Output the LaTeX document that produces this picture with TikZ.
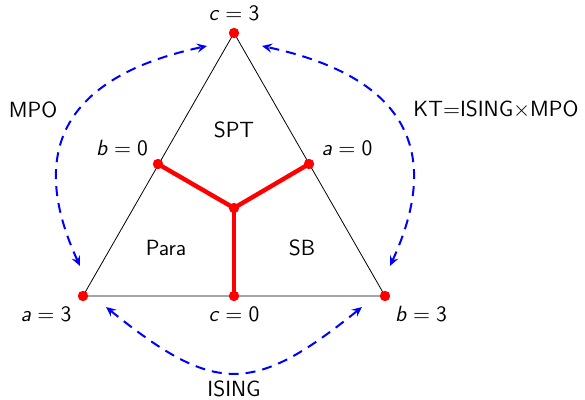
\documentclass[tikz,border=0pt]{standalone}
\usetikzlibrary{arrows.meta}
\newcommand{\eqlab}[2]{\textit{#1}${}={}$#2}
\begin{document}
\begin{tikzpicture}[x=0.5pt,y=-0.5pt,
  lbl/.style={font=\fontsize{11}{13}\selectfont\sffamily, inner sep=1pt},
  tri/.style={draw=black, line width=0.4pt},
  redline/.style={draw=red, line width=2.2pt},
  reddot/.style={circle, fill=red, inner sep=0pt, minimum size=5.2pt},
  bluearr/.style={draw=blue, line width=1pt, dash pattern=on 5pt off 3.5pt,
     {Stealth[length=5pt,width=4.5pt,inset=1.8pt]}-{Stealth[length=5pt,width=4.5pt,inset=1.8pt]}}]
\useasboundingbox (0,0) rectangle (585,400);
% vertices
\coordinate (A) at (83,296);
\coordinate (B) at (385,296);
\coordinate (C) at (234,33);
\coordinate (Mab) at (234,296);
\coordinate (Mac) at (158,164);
\coordinate (Mbc) at (309,164);
\coordinate (O) at (234,208);
\draw[tri] (A) -- (B) -- (C) -- cycle;
\draw[redline] (O) -- (Mac);
\draw[redline] (O) -- (Mbc);
\draw[redline] (O) -- (Mab);
\foreach \p in {A,B,C,Mab,Mac,Mbc,O} \node[reddot] (d\p) at (\p) {};
% labels
\node[lbl] (lc3) at (234,13) {\eqlab{c}{3}};
\node[lbl] (lb0) at (122,148) {\eqlab{b}{0}};
\node[lbl] (la0) at (347,148) {\eqlab{a}{0}};
\node[lbl] (la3) at (46,314) {\eqlab{a}{3}};
\node[lbl] (lc0) at (234,314) {\eqlab{c}{0}};
\node[lbl] (lb3) at (421,314) {\eqlab{b}{3}};
\node[lbl] (spt) at (234,130) {SPT};
\node[lbl] (para) at (166,248) {Para};
\node[lbl] (sb) at (302,248) {SB};
\node[lbl] (mpo) at (33,110) {MPO};
\node[lbl] (kt) at (496,110) {KT$=$ISING$\times$MPO};
\node[lbl] (ising) at (234,389) {ISING};
% arrow ends
\coordinate (l1) at (80,266);
\coordinate (l2) at (207,46);
\coordinate (r1) at (390,266);
\coordinate (r2) at (262,46);
\coordinate (b1) at (106,307);
\coordinate (b2) at (362,307);
\draw[bluearr] (l1) .. controls (45,190) and (25,85) .. (l2);
\draw[bluearr] (r1) .. controls (425,190) and (445,85) .. (r2);
\draw[bluearr] (b1) .. controls (215,395) and (253,395) .. (b2);
\end{tikzpicture}
\end{document}
